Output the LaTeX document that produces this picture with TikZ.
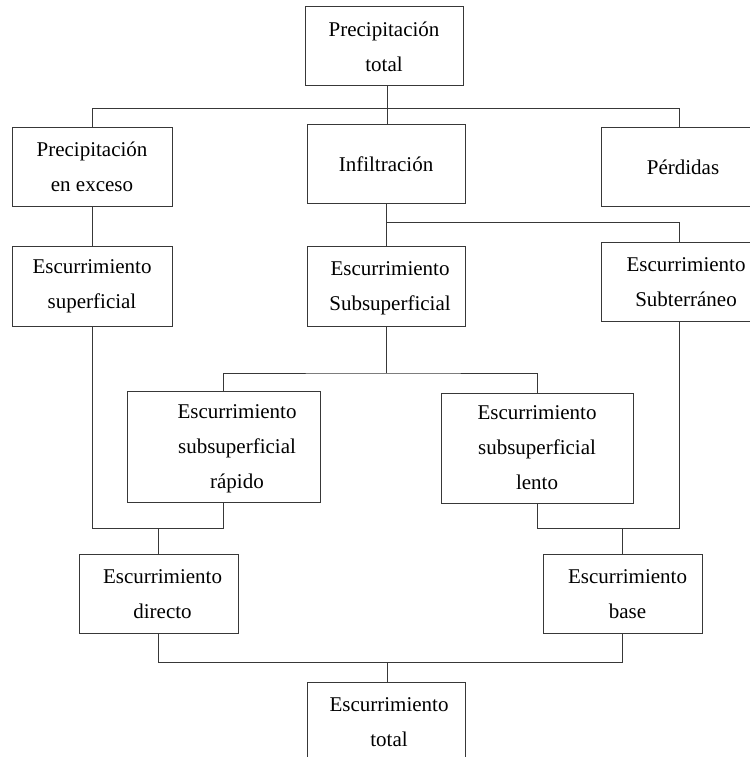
\documentclass[tikz,border=0pt]{standalone}
\usepackage{fontspec}
\setmainfont{Liberation Serif}
\newcommand\shiftedtext[2]{\hspace*{#1}\begin{tabular}{@{}c@{}}#2\end{tabular}}
\begin{document}
\begin{tikzpicture}[x=1pt,y=-1pt,
  box/.style={draw=black!78, line width=1pt, inner sep=0pt, align=center,
    font=\fontsize{21}{35}\selectfont},
  conn/.style={draw=black!78, line width=1pt}]
\useasboundingbox (0,0) rectangle (749,757);
% boxes
\node[box, minimum width=158, minimum height=79] (pt) at (384,46.5) {Precipitación\\total};
\node[box, minimum width=160, minimum height=78] (pe) at (92,167) {Precipitación\\en exceso};
\node[box, minimum width=158, minimum height=78] (inf) at (386,164) {Infiltración};
\node[box, minimum width=156, minimum height=78] (per) at (679,167) {\shiftedtext{8pt}{Pérdidas}};
\node[box, minimum width=160, minimum height=80] (es) at (92,286) {Escurrimiento\\superficial};
\node[box, minimum width=158, minimum height=80] (ss) at (386,286) {\shiftedtext{8pt}{Escurrimiento\\Subsuperficial}};
\node[box, minimum width=156, minimum height=79] (subt) at (679,281.5) {\shiftedtext{14pt}{Escurrimiento\\Subterráneo}};
\node[box, minimum width=193, minimum height=111] (rap) at (223.5,446.5) {\shiftedtext{27pt}{Escurrimiento\\subsuperficial\\rápido}};
\node[box, minimum width=192, minimum height=110] (len) at (537,448) {Escurrimiento\\subsuperficial\\lento};
\node[box, minimum width=159, minimum height=79] (dir) at (158.5,593.5) {\shiftedtext{8pt}{Escurrimiento\\directo}};
\node[box, minimum width=159, minimum height=79] (base) at (622.5,593.5) {\shiftedtext{10pt}{Escurrimiento\\base}};
\node[box, minimum width=158, minimum height=80] (tot) at (386,722) {\shiftedtext{6pt}{Escurrimiento\\total}};
% bus coordinates
\coordinate (b1) at (387,109);
\coordinate (b2) at (386,222);
\coordinate (b3) at (386,373);
\coordinate (b4) at (159,528);
\coordinate (b5) at (623,528);
\coordinate (b6) at (387,662);
% connectors
\draw[conn] (pt.south -| b1) -- (inf.north -| b1);
\draw[conn] (pe.north) -- (pe.north |- b1) -- (per.north |- b1) -- (per.north);
\draw[conn] (pe.south) -- (es.north);
\draw[conn] (inf.south) -- (ss.north);
\draw[conn] (b2) -| (subt.north);
\draw[conn] (ss.south) -- (b3);
\draw[conn] (rap.north) |- (b3) -| (len.north);
\draw[conn] (es.south) |- (rap.south |- b4) -- (rap.south);
\draw[conn] (dir.north) -- (dir.north |- b4);
\draw[conn] (subt.south) |- (len.south |- b5) -- (len.south);
\draw[conn] (base.north) -- (base.north |- b5);
\draw[conn] (dir.south) |- (base.south |- b6) -- (base.south);
\draw[conn] (b6) -- (tot.north -| b6);
\end{tikzpicture}
\end{document}
